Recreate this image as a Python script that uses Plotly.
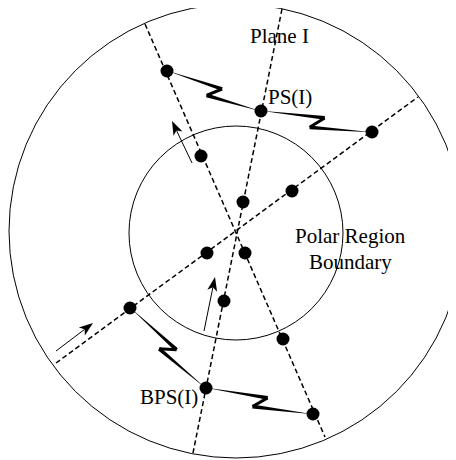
import numpy as np
import plotly.graph_objects as go

W, H = 456, 460
PAGE_MARGIN = 8  # default body margin of the html page

# ---- diagram data (pixel-like diagram coordinates, y grows downward) ----
outer_center = (236, 231)
outer_radius = 227
inner_center = (236, 233)
inner_radius = 107

plane_line_a = [(145, 24), (325, 437)]
plane_line_b = [(282, 9), (193, 453)]
plane_line_c = [(56, 363), (418, 97)]

dots_a = [(167, 71), (201, 156), (245, 253), (283, 339), (313, 414)]
dots_b = [(261, 111), (243, 202), (224, 301), (206, 388)]
dots_c = [(130, 308), (207, 253), (292, 191), (372, 132)]

links = [(dots_a[0], dots_b[0]), (dots_b[0], dots_c[3]),
         (dots_c[0], dots_b[3]), (dots_b[3], dots_a[4])]

arrow_tails = [(192, 163), (204, 331), (56, 351)]
arrow_tips = [(172, 121), (215, 277), (93, 323)]

label_texts = ["Plane I", "PS(I)", "Polar Region", "Boundary", "BPS(I)"]
label_x = [279, 290, 350, 350, 169]
label_y = [36, 97, 236, 262, 397]

# ---- figure ----
fig = go.Figure()
BLACK = "#000000"

# dashed plane lines
for ln in (plane_line_a, plane_line_b, plane_line_c):
    xs, ys = zip(*ln)
    fig.add_trace(go.Scatter(x=xs, y=ys, mode="lines",
                             line=dict(color=BLACK, width=1.5, dash="5px,3px"),
                             hoverinfo="skip"))


def quad(p, q, wp, wq):
    p = np.array(p, float); q = np.array(q, float)
    u = (q - p) / np.linalg.norm(q - p)
    v = np.array([u[1], -u[0]])
    pts = [p + wp * v, q + wq * v, q - wq * v, p - wp * v, p + wp * v]
    return [a[0] for a in pts], [a[1] for a in pts]


def filled(xs, ys):
    return go.Scatter(x=xs, y=ys, mode="lines", fill="toself", fillcolor=BLACK,
                      line=dict(color=BLACK, width=0), hoverinfo="skip")


# lightning links
for p0, p3 in links:
    p0a = np.array(p0, float); p3a = np.array(p3, float)
    d = p3a - p0a
    n = np.array([d[1], -d[0]]) / np.linalg.norm(d)
    q1 = p0a + 0.565 * d + 5.0 * n
    q2 = p0a + 0.45 * d - 7.0 * n
    for a, b, wa, wb in ((p0a, q1, 0.35, 1.9), (q2, p3a, 1.9, 0.35)):
        fig.add_trace(filled(*quad(a, b, wa, wb)))
    fig.add_trace(filled(*quad(q1, q2, 1.5, 1.5)))

# arrows
for t, h in zip(arrow_tails, arrow_tips):
    t = np.array(t, float); h = np.array(h, float)
    u = (h - t) / np.linalg.norm(h - t)
    v = np.array([u[1], -u[0]])
    L, hw = 14.0, 5.0
    base = h - L * u
    notch = h - 0.75 * L * u
    fig.add_trace(go.Scatter(x=[t[0], notch[0]], y=[t[1], notch[1]], mode="lines",
                             line=dict(color=BLACK, width=1), hoverinfo="skip"))
    pts = [h, base + hw * v, notch, base - hw * v, h]
    fig.add_trace(filled([p[0] for p in pts], [p[1] for p in pts]))

# dots
for ds in (dots_a, dots_b, dots_c):
    xs, ys = zip(*ds)
    fig.add_trace(go.Scatter(x=xs, y=ys, mode="markers",
                             marker=dict(size=13, color=BLACK), hoverinfo="skip"))

# circles
shapes = []
for (cx, cy), r in ((outer_center, outer_radius), (inner_center, inner_radius)):
    shapes.append(dict(type="circle", xref="x", yref="y",
                       x0=cx - r, x1=cx + r, y0=cy - r, y1=cy + r,
                       line=dict(color=BLACK, width=1), layer="below"))

annotations = [dict(x=x, y=y, xref="x", yref="y", text=t, showarrow=False,
                    xanchor="center", yanchor="middle",
                    font=dict(family="Liberation Serif, Times New Roman, serif",
                              size=21, color=BLACK))
               for t, x, y in zip(label_texts, label_x, label_y)]

fig.update_layout(
    width=W - PAGE_MARGIN, height=H - PAGE_MARGIN,
    margin=dict(l=0, r=0, t=0, b=0),
    paper_bgcolor="white", plot_bgcolor="white", showlegend=False,
    xaxis=dict(range=[PAGE_MARGIN, W], visible=False, fixedrange=True),
    yaxis=dict(range=[H, PAGE_MARGIN], visible=False, fixedrange=True),
    shapes=shapes, annotations=annotations,
)

fig.write_html("out.html")
